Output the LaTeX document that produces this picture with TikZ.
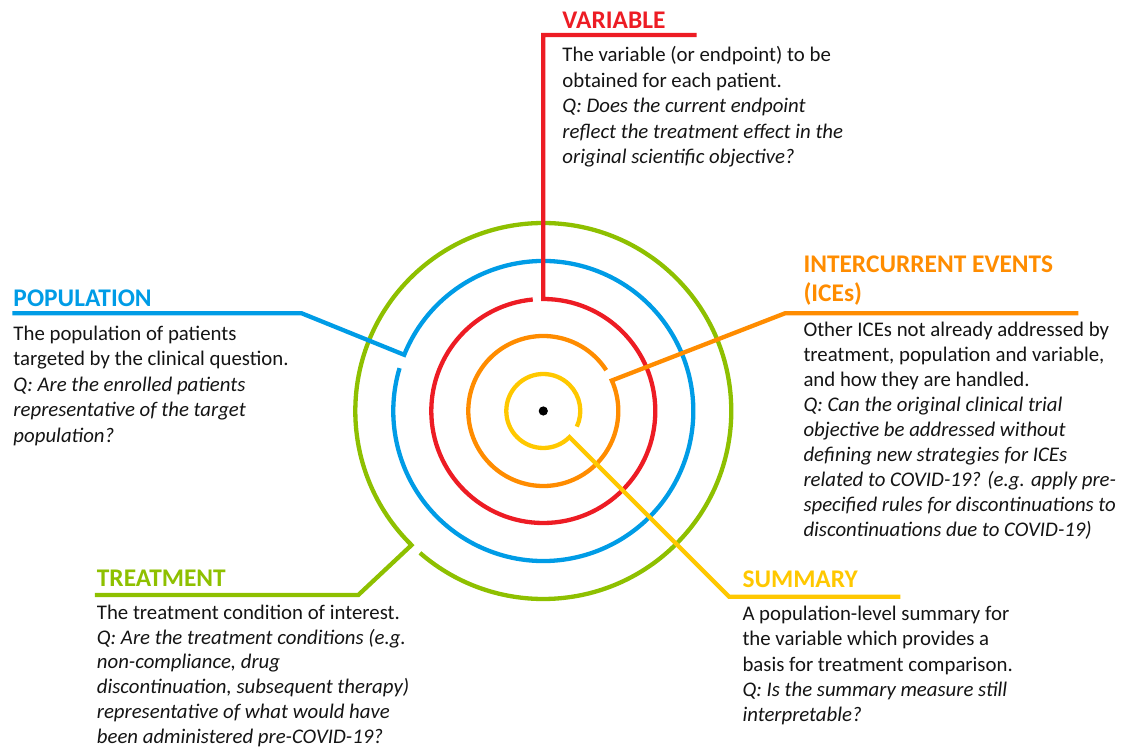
\documentclass[tikz,border=0pt]{standalone}
\usepackage{fontspec}
\setmainfont{Carlito}
\definecolor{cred}{RGB}{237,28,36}
\definecolor{cblue}{RGB}{0,156,230}
\definecolor{cgreen}{RGB}{142,192,0}
\definecolor{corange}{RGB}{255,140,0}
\definecolor{cyellow}{RGB}{255,200,0}
\definecolor{ctext}{RGB}{20,20,20}
\begin{document}
\begin{tikzpicture}[x=1pt,y=1pt,
  ring/.style={line width=4.3pt},
  head/.style={font=\bfseries\fontsize{25.4}{29.4}\selectfont, anchor=base west, inner sep=0pt, align=left},
  body/.style={font=\fontsize{20.8}{25.5}\selectfont, text=ctext, anchor=base west, inner sep=0pt, align=left}]
\useasboundingbox (-543.3,-338) rectangle (581.7,411);

% headings (anchor = baseline of last line)
\node[head, text=cred]    (varH) at (19,382.7) {VARIABLE};
\node[head, text=cblue]   (popH) at (-530,104.3) {POPULATION};
\node[head, text=corange] (iceH) at (260,109.3) {INTERCURRENT EVENTS\\(ICEs)};
\node[head, text=cgreen]  (trtH) at (-446.6,-175.7) {TREATMENT};
\node[head, text=cyellow] (sumH) at (199,-176.3) {SUMMARY};

% bodies (anchor = baseline of last line)
\node[body] (varB) at (19,247) {The variable (or endpoint) to be\\
obtained for each patient.\\
\textit{Q: Does the current endpoint}\\
\textit{reflect the treatment effect in the}\\
\textit{original scientific objective?}};
\node[body] (popB) at (-530,-31.4) {The population of patients\\
targeted by the clinical question.\\
\textit{Q: Are the enrolled patients}\\
\textit{representative of the target}\\
\textit{population?}};
\node[body, font=\fontsize{20.8}{25}\selectfont] (iceB) at (260,-125.7) {Other ICEs not already addressed by\\
treatment, population and variable,\\
and how they are handled.\\
\textit{Q: Can the original clinical trial}\\
\textit{objective be addressed without}\\
\textit{defining new strategies for ICEs}\\
\textit{related to COVID-19? (e.g. apply pre-}\\
\textit{specified rules for discontinuations to}\\
\textit{discontinuations due to COVID-19)}};
\node[body, font=\fontsize{20.8}{24.8}\selectfont] (trtB) at (-446.6,-332.3) {The treatment condition of interest.\\
\textit{Q: Are the treatment conditions (e.g.}\\
\textit{non-compliance, drug}\\
\textit{discontinuation, subsequent therapy)}\\
\textit{representative of what would have}\\
\textit{been administered pre-COVID-19?}};
\node[body] (sumB) at (199,-311) {A population-level summary for\\
the variable which provides a\\
basis for treatment comparison.\\
\textit{Q: Is the summary measure still}\\
\textit{interpretable?}};

% connector coordinates
\coordinate (varEnd) at (153.4,376);
\coordinate (varCorner) at (0,376);
\coordinate (popEnd) at (-531,97.7);
\coordinate (popCorner) at (-241.6,97.7);
\coordinate (iceEnd) at (535,97.7);
\coordinate (iceCorner) at (241.7,97.7);
\coordinate (trtEnd) at (-448.3,-184);
\coordinate (trtCorner) at (-185,-184);
\coordinate (sumEnd) at (357,-185.7);
\coordinate (sumCorner) at (185.7,-185.7);

% rings with connectors
\draw[ring, cgreen] (trtEnd) -- (trtCorner) -- (225.5:188) arc[start angle=225.5, end angle=-131, radius=188];
\draw[ring, cblue] (popEnd) -- (popCorner) -- (158:150) arc[start angle=158, end angle=-196.6, radius=150];
\draw[ring, cred] (varEnd) -- (varCorner) -- (90:112) arc[start angle=90, end angle=-264.6, radius=112];
\draw[ring, corange] (iceEnd) -- (iceCorner) -- (24:75) arc[start angle=24, end angle=-327, radius=75];
\draw[ring, cyellow] (sumEnd) -- (sumCorner) -- (-45:37) arc[start angle=-45, end angle=-385, radius=37];

\fill[black] (0,0) circle (4.6);
\end{tikzpicture}
\end{document}
